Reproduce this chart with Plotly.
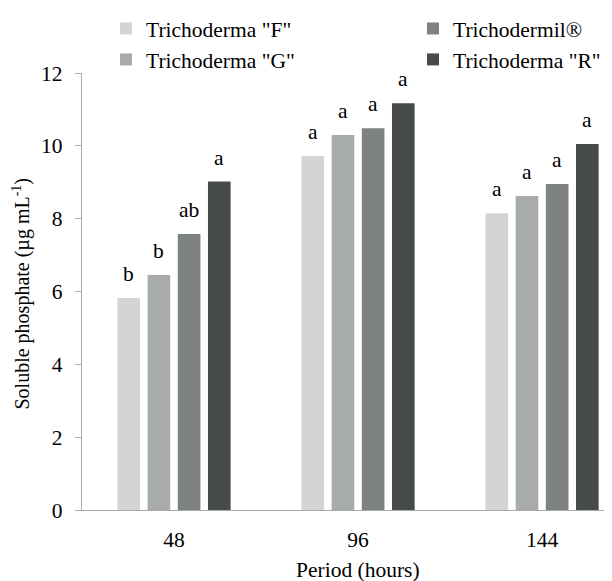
import plotly.graph_objects as go

periods = ["48", "96", "144"]
series_names = ['Trichoderma "F"', 'Trichoderma "G"', 'Trichodermil®', 'Trichoderma "R"']
values_f = [5.82, 9.72, 8.15]
values_g = [6.45, 10.30, 8.62]
values_t = [7.58, 10.48, 8.95]
values_r = [9.02, 11.17, 10.05]
letters_f = ["b", "a", "a"]
letters_g = ["b", "a", "a"]
letters_t = ["ab", "a", "a"]
letters_r = ["a", "a", "a"]
y_ticks = [0, 2, 4, 6, 8, 10, 12]

colors = ["#d3d5d4", "#a8abab", "#7f8282", "#474a4b"]
legend_ids = ["legend", "legend", "legend2", "legend2"]
FONT = "Liberation Serif"
FS = 21.5
BARGAP = 0.344
BARGROUPGAP = 0.25

all_values = [values_f, values_g, values_t, values_r]
all_letters = [letters_f, letters_g, letters_t, letters_r]

fig = go.Figure()
for i, (name, vals) in enumerate(zip(series_names, all_values)):
    fig.add_trace(go.Bar(
        x=periods, y=vals, name=name,
        marker=dict(color=colors[i], line=dict(width=0)),
        legend=legend_ids[i],
    ))

annotations = []
slot = (1 - BARGAP) / len(series_names)
for i, (vals, lets) in enumerate(zip(all_values, all_letters)):
    for ci, (v, t) in enumerate(zip(vals, lets)):
        annotations.append(dict(
            x=ci + (i - 1.5) * slot, y=v, xref="x", yref="y",
            text=t, showarrow=False, yanchor="bottom", yshift=10,
            font=dict(family=FONT, size=FS, color="#000000"),
        ))

# axis titles
annotations.append(dict(
    x=1, y=0, xref="x", yref="paper", text="Period (hours)", showarrow=False,
    yanchor="middle", yshift=-60, font=dict(family=FONT, size=FS, color="#000000"),
))
annotations.append(dict(
    x=0, y=0.5, xref="paper", yref="paper",
    text="Soluble phosphate (µg mL<sup>-1</sup>)", showarrow=False,
    textangle=-90, xanchor="center", yanchor="middle", xshift=-61, yshift=-2,
    font=dict(family=FONT, size=20, color="#000000"),
))

fig.update_layout(
    width=612, height=581,
    margin=dict(l=74, r=8, t=65, b=79, autoexpand=False),
    paper_bgcolor="white", plot_bgcolor="white",
    barmode="group", bargap=BARGAP, bargroupgap=BARGROUPGAP,
    font=dict(family=FONT, size=FS, color="#000000"),
    xaxis=dict(
        type="category", range=[-0.5, 2.38],
        showline=True, linecolor="#ababab", linewidth=1.3,
        ticks="", showgrid=False, zeroline=False,
        tickfont=dict(family=FONT, size=FS, color="#000000"),
        ticklabelstandoff=10,
    ),
    yaxis=dict(
        range=[0, 12], tickvals=y_ticks,
        showline=True, linecolor="#ababab", linewidth=1.3,
        ticks="outside", ticklen=6, tickcolor="#ababab", tickwidth=1.3,
        showgrid=False, zeroline=False,
        tickfont=dict(family=FONT, size=FS, color="#000000"),
        ticklabelstandoff=8,
    ),
    legend=dict(x=98 / 612, y=1.0115, xref="container", yref="container",
                xanchor="left", yanchor="top",
                orientation="v", bgcolor="rgba(0,0,0,0)",
                font=dict(family=FONT, size=21.5, color="#000000")),
    legend2=dict(x=405 / 612, y=1.0115, xref="container", yref="container",
                 xanchor="left", yanchor="top",
                 orientation="v", bgcolor="rgba(0,0,0,0)",
                 font=dict(family=FONT, size=21.5, color="#000000")),
    annotations=annotations,
    showlegend=True,
)

fig.write_html("out.html")
